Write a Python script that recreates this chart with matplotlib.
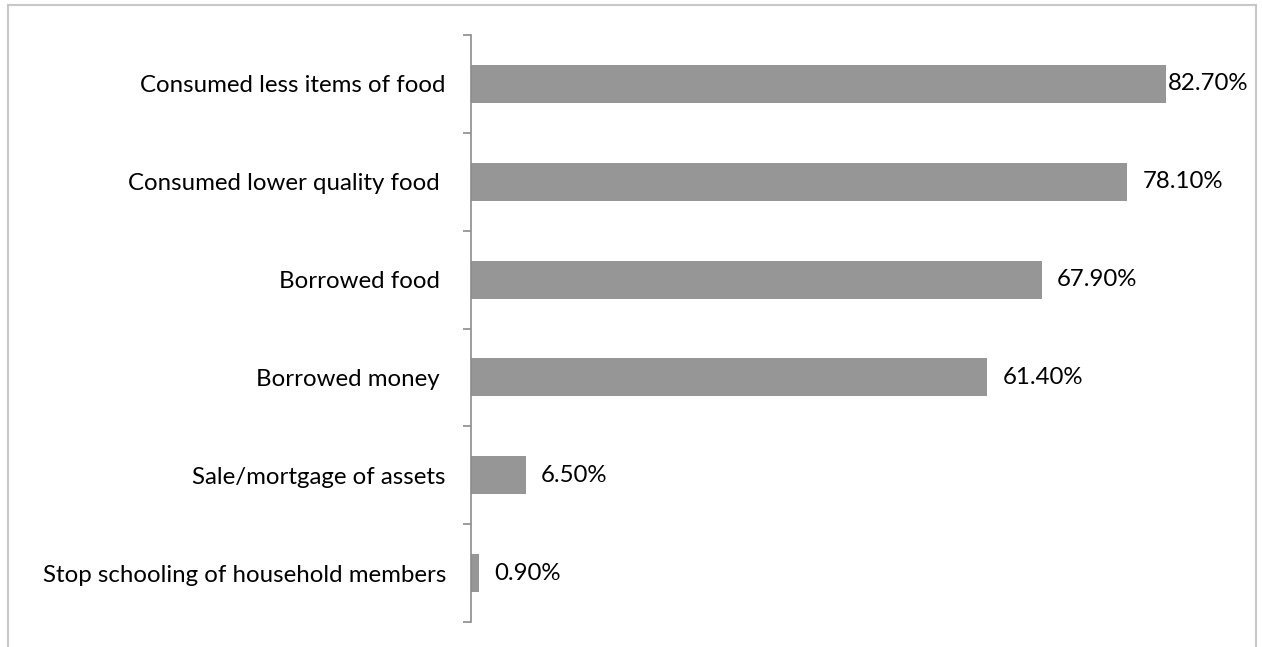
import matplotlib.pyplot as plt
from matplotlib.lines import Line2D

# Coping strategies (top to bottom)
categories = [
    "Consumed less items of food",
    "Consumed lower quality food ",
    "Borrowed food ",
    "Borrowed money ",
    "Sale/mortgage of assets",
    "Stop schooling of household members",
]
percentages = [82.7, 78.1, 67.9, 61.4, 6.5, 0.9]
value_labels = ["82.70%", "78.10%", "67.90%", "61.40%", "6.50%", "0.90%"]

plt.rcParams['font.family'] = ['Lato', 'DejaVu Sans']

fig = plt.figure(figsize=(12.62, 6.47), dpi=100)
ax = fig.add_axes([471 / 1262, 25 / 647, 90 * 8.404 / 1262, 587 / 647])

bar_color = '#969696'
axis_color = '#8c8c8c'

ypos = list(range(len(categories)))
ax.barh(ypos, percentages, height=0.39, color=bar_color)

for i, (v, lab) in enumerate(zip(percentages, value_labels)):
    off = 1.5 if i == 0 else 11
    ax.annotate(lab, (v, i), xytext=(off, 0), textcoords='offset points',
                va='center', ha='left', fontsize=17.3, color='black')

ax.set_xlim(0, 90)
ax.set_ylim(len(categories) - 0.5, -0.5)

ax.set_yticks(ypos)
ax.set_yticklabels(categories, fontsize=17.3)
ax.tick_params(axis='y', which='major', length=0, pad=18)
ax.set_yticks([i - 0.5 for i in range(len(categories) + 1)], minor=True)
ax.tick_params(axis='y', which='minor', length=6, width=1.2, color=axis_color)
ax.set_xticks([])

for s in ['top', 'right', 'bottom']:
    ax.spines[s].set_visible(False)
ax.spines['left'].set_color(axis_color)
ax.spines['left'].set_linewidth(1.2)

# outer frame around the chart area
W, H = 1262, 647
frame_kw = dict(color='#c8c8c8', linewidth=1.5, transform=fig.transFigure)
fig.add_artist(Line2D([8 / W, 8 / W], [0, 1 - 5 / H], **frame_kw))
fig.add_artist(Line2D([8 / W, 1256 / W], [1 - 5 / H, 1 - 5 / H], **frame_kw))
fig.add_artist(Line2D([1256 / W, 1256 / W], [0, 1 - 5 / H], **frame_kw))

fig.savefig('out.png', dpi=100, facecolor='white')
